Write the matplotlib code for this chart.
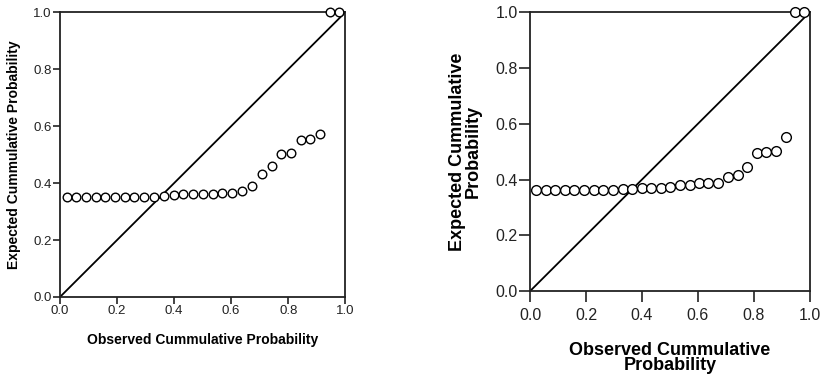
import numpy as np
import matplotlib.pyplot as plt

plt.rcParams['font.family'] = ['Liberation Sans', 'DejaVu Sans']

# left P-P plot
obs_left = [0.023, 0.057, 0.091, 0.125, 0.159, 0.193, 0.227, 0.261, 0.295, 0.329,
            0.364, 0.398, 0.432, 0.466, 0.500, 0.535, 0.569, 0.603, 0.638, 0.672,
            0.708, 0.742, 0.776, 0.810, 0.844, 0.877, 0.912, 0.945, 0.979]
exp_left = [0.352, 0.352, 0.352, 0.352, 0.352, 0.352, 0.352, 0.352, 0.352, 0.352,
            0.355, 0.358, 0.360, 0.360, 0.363, 0.363, 0.364, 0.364, 0.371, 0.391,
            0.432, 0.459, 0.502, 0.506, 0.552, 0.555, 0.573, 1.0, 1.0]

# right P-P plot
obs_right = [0.020, 0.055, 0.089, 0.124, 0.158, 0.193, 0.227, 0.262, 0.296, 0.331,
             0.365, 0.400, 0.434, 0.468, 0.502, 0.537, 0.571, 0.605, 0.638, 0.673,
             0.707, 0.742, 0.777, 0.811, 0.845, 0.879, 0.914, 0.946, 0.980]
exp_right = [0.361, 0.361, 0.361, 0.361, 0.361, 0.362, 0.363, 0.364, 0.364, 0.366,
             0.367, 0.368, 0.370, 0.371, 0.374, 0.379, 0.382, 0.386, 0.387, 0.389,
             0.408, 0.417, 0.446, 0.494, 0.499, 0.504, 0.551, 1.0, 1.0]

ticks = [0.0, 0.2, 0.4, 0.6, 0.8, 1.0]
xlab = 'Observed Cummulative Probability'
ylab = 'Expected Cummulative Probability'

fig = plt.figure(figsize=(8.22, 3.74), dpi=100)
ax1 = fig.add_axes([0.073, 0.206, 0.347, 0.761])
ax2 = fig.add_axes([0.645, 0.222, 0.340, 0.745])


def pp_plot(ax, x, y, msize, tsize, lsize, tlen, xl, yl, xpad, ypad, xtpad):
    ax.plot([0, 1], [0, 1], color='black', lw=1.3, zorder=2)
    ax.plot(x, y, 'o', mfc='white', mec='black', mew=1.0, ms=msize,
            clip_on=False, zorder=3)
    ax.set_xlim(0, 1)
    ax.set_ylim(0, 1)
    ax.set_xticks(ticks)
    ax.set_yticks(ticks)
    ax.set_xticklabels([f'{t:.1f}' for t in ticks])
    ax.set_yticklabels([f'{t:.1f}' for t in ticks])
    ax.tick_params(direction='out', length=tlen, width=1.2, labelsize=tsize,
                   colors='#222222', pad=1)
    ax.tick_params(axis='x', pad=xtpad)
    for s in ax.spines.values():
        s.set_linewidth(1.3)
        s.set_color('#222222')
    ax.set_xlabel(xl, fontsize=lsize, fontweight='bold', labelpad=xpad,
                  linespacing=0.85)
    ax.set_ylabel(yl, fontsize=lsize, fontweight='bold', labelpad=ypad,
                  linespacing=0.85)


pp_plot(ax1, obs_left, exp_left, 6.2, 9.5, 10, 5, xlab, ylab, 11, 9, 1)
pp_plot(ax2, obs_right, exp_right, 7, 11.5, 13, 8,
        'Observed Cummulative\nProbability', 'Expected Cummulative\nProbability',
        14, 10, 4)

fig.savefig('out.png', dpi=100)
